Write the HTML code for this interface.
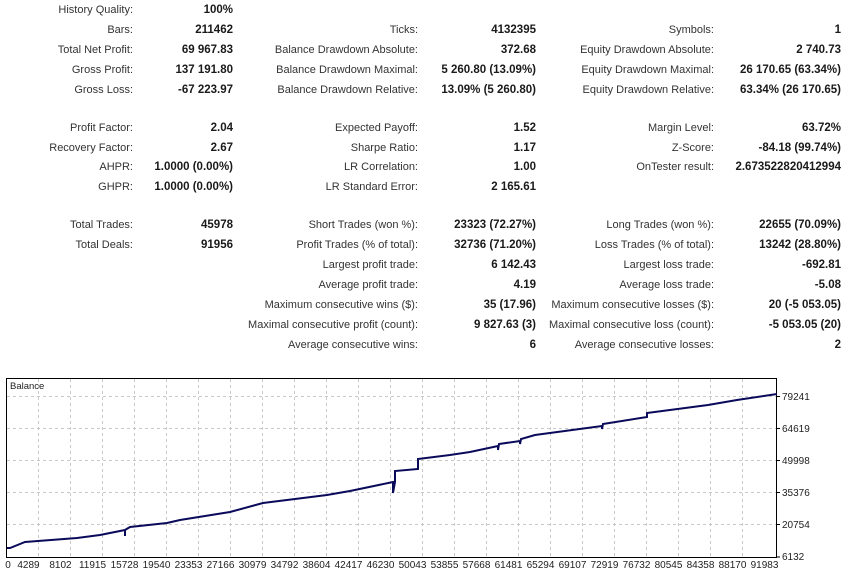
<!DOCTYPE html>
<html><head><meta charset="utf-8">
<style>
html,body{margin:0;padding:0;background:#fff;}
body{width:850px;height:575px;position:relative;overflow:hidden;font-family:"Liberation Sans","DejaVu Sans",sans-serif;font-size:11px;color:#333;}
.t{position:absolute;white-space:nowrap;text-align:right;line-height:14px;}
.b{font-weight:bold;color:#1a1a1a;font-size:11.5px;}
svg{position:absolute;left:0;top:0;}
</style></head><body>
<div id="tbl"></div>
<svg width="850" height="575" viewBox="0 0 850 575" font-family="Liberation Sans, DejaVu Sans, sans-serif" font-size="10" fill="#222">
<g stroke="#c8c8c8" stroke-width="1" stroke-dasharray="3,3" id="grid"></g>
<rect x="6.5" y="378.5" width="770" height="179" fill="none" stroke="#000" stroke-width="1"/>
<text x="10" y="389" font-size="9.5">Balance</text>
<polyline fill="none" stroke="#0a0a5a" stroke-width="2" points="
7,548 10,548 25,542 77,538 100,535 125,530 125,536 125,530 130,527 167,523 180,520 230,512 263,503 327,495 350,491 393,482 393,493 395,482 395,471 418,469 418,459 450,455 470,452 498,446 498,450 499,444 520,441 520,444 521,439 535,435 602,426 602,429 603,424 647,417 647,413 708,405 737,400 777,394"/>
<g id="lbl"></g>
</svg>
<script>
var rows=[
[10,"History Quality:","100%"],
[30,"Bars:","211462","Ticks:","4132395","Symbols:","1"],
[50,"Total Net Profit:","69 967.83","Balance Drawdown Absolute:","372.68","Equity Drawdown Absolute:","2 740.73"],
[70,"Gross Profit:","137 191.80","Balance Drawdown Maximal:","5 260.80 (13.09%)","Equity Drawdown Maximal:","26 170.65 (63.34%)"],
[90,"Gross Loss:","-67 223.97","Balance Drawdown Relative:","13.09% (5 260.80)","Equity Drawdown Relative:","63.34% (26 170.65)"],
[128,"Profit Factor:","2.04","Expected Payoff:","1.52","Margin Level:","63.72%"],
[148,"Recovery Factor:","2.67","Sharpe Ratio:","1.17","Z-Score:","-84.18 (99.74%)"],
[167,"AHPR:","1.0000 (0.00%)","LR Correlation:","1.00","OnTester result:","2.673522820412994"],
[187,"GHPR:","1.0000 (0.00%)","LR Standard Error:","2 165.61"],
[225,"Total Trades:","45978","Short Trades (won %):","23323 (72.27%)","Long Trades (won %):","22655 (70.09%)"],
[245,"Total Deals:","91956","Profit Trades (% of total):","32736 (71.20%)","Loss Trades (% of total):","13242 (28.80%)"],
[265,null,null,"Largest profit trade:","6 142.43","Largest loss trade:","-692.81"],
[285,null,null,"Average profit trade:","4.19","Average loss trade:","-5.08"],
[305,null,null,"Maximum consecutive wins ($):","35 (17.96)","Maximum consecutive losses ($):","20 (-5 053.05)"],
[325,null,null,"Maximal consecutive profit (count):","9 827.63 (3)","Maximal consecutive loss (count):","-5 053.05 (20)"],
[345,null,null,"Average consecutive wins:","6","Average consecutive losses:","2"]];
var xs=[133,233,418,536,714,841];
var h="";
rows.forEach(function(r){
 for(var i=1;i<r.length;i++){ if(r[i]==null)continue;
  h+='<div class="t'+(i%2==0?' b':'')+'" style="right:'+(850-xs[i-1])+'px;top:'+(r[0]-7)+'px">'+r[i]+'</div>';}
});
document.getElementById('tbl').innerHTML=h;
var g="",l="";
for(var k=0;k<=22;k++){var x=38.5+32*k;g+='<line x1="'+x+'" y1="379" x2="'+x+'" y2="557"/>';}
for(var j=0;j<5;j++){var y=396.5+32*j;g+='<line x1="7" y1="'+y+'" x2="776" y2="'+y+'"/>';}
document.getElementById('grid').innerHTML=g;
var xl=["0","4289","8102","11915","15728","19540","23353","27166","30979","34792","38604","42417","46230","50043","53855","57668","61481","65294","69107","72919","76732","80545","84358","88170","91983"];
l+='<text x="8" y="568" text-anchor="middle">0</text>';
for(var k=1;k<xl.length;k++){l+='<text x="'+(38.5+32*(k-1)-10)+'" y="568" text-anchor="middle">'+xl[k]+'</text>';}
var yl=["79241","64619","49998","35376","20754"];
for(var j=0;j<5;j++){l+='<text x="782" y="'+(400+32*j)+'">'+yl[j]+'</text>';}
l+='<text x="782" y="560">6132</text>';
for(var j=0;j<6;j++){var y=396.5+32*j;if(j==5)y=557;l+='<line x1="777" y1="'+y+'" x2="780" y2="'+y+'" stroke="#000"/>';}
document.getElementById('lbl').innerHTML=l;
</script>
</body></html>
